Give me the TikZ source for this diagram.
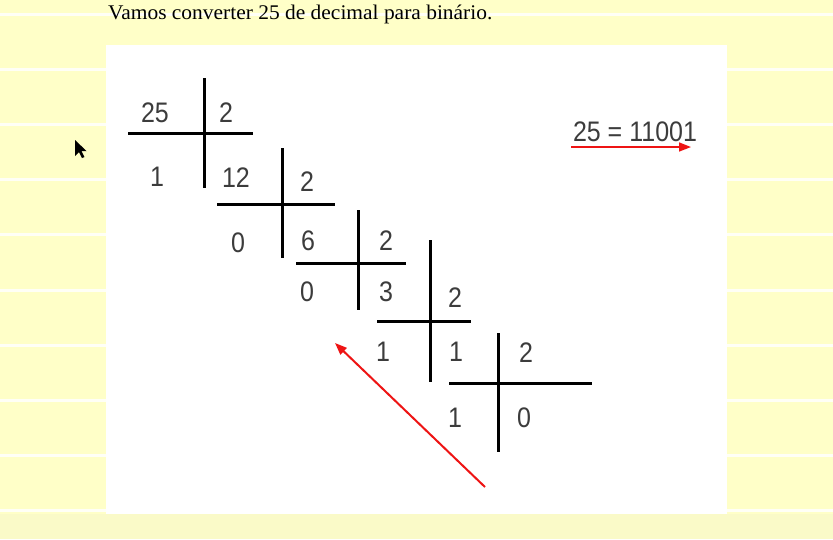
\documentclass[tikz,border=0pt]{standalone}
\usepackage{fontspec}
\setmainfont{Liberation Serif}
\newfontfamily\digfont{Liberation Sans}
\usetikzlibrary{arrows.meta}
\definecolor{bgyel}{RGB}{255,255,200}
\definecolor{bgbot}{RGB}{250,250,200}
\definecolor{digc}{RGB}{60,60,60}
\definecolor{arrred}{RGB}{238,20,20}
\newcommand{\dg}[1]{\scalebox{1}[1.13]{#1}}
\tikzset{
  dig/.style={font=\digfont\fontsize{25}{25}\selectfont, text=digc, inner sep=0pt, anchor=center},
  barline/.style={line width=3pt, black},
  redarrow/.style={line width=2pt, arrred, -{Triangle[length=12pt,width=9pt]}},
  stripe/.style={fill=white, draw=none, opacity=0.85}
}
\begin{document}
\begin{tikzpicture}[x=1pt,y=-1pt]
\useasboundingbox (0,0) rectangle (833,539);
% background
\fill[bgyel] (0,0) rectangle (833,539);
\fill[bgbot] (0,514) rectangle (833,539);
\foreach \k in {0,...,9} {
  \fill[stripe] (0,{12.5+55.2*\k}) rectangle (833,{15.5+55.2*\k});
}
% white panel
\fill[white] (106,45) rectangle (727,514);
% title
\node[anchor=base west, inner sep=0pt] (title) at (108,19)
  {\scalebox{1.1}[1.07]{\fontsize{19.5}{20}\selectfont Vamos converter 25 de decimal para binário.}};
% cursor
\fill[black] (75,140) -- (75,156) -- (79,152) -- (82,158) -- (84.5,157) -- (81.5,151) -- (86.5,151) -- cycle;
% line endpoints
\coordinate (v1a) at (204,78);  \coordinate (v1b) at (204,188);
\coordinate (h1a) at (128,133); \coordinate (h1b) at (253,133);
\coordinate (v2a) at (282,148); \coordinate (v2b) at (282,258);
\coordinate (h2a) at (217,204); \coordinate (h2b) at (335,204);
\coordinate (v3a) at (358,210); \coordinate (v3b) at (358,310);
\coordinate (h3a) at (296,263); \coordinate (h3b) at (406,263);
\coordinate (v4a) at (430,240); \coordinate (v4b) at (430,382);
\coordinate (h4a) at (377,321); \coordinate (h4b) at (471,321);
\coordinate (v5a) at (498,333); \coordinate (v5b) at (498,452);
\coordinate (h5a) at (449,383); \coordinate (h5b) at (592,383);
\foreach \i in {1,...,5} {
  \draw[barline] (v\i a) -- (v\i b);
  \draw[barline] (h\i a) -- (h\i b);
}
% numbers
\node[dig] (n25) at (155,113) {\dg{25}};
\node[dig] (d1) at (226,113) {\dg{2}};
\node[dig] (r1) at (157,177) {\dg{1}};
\node[dig] (q1) at (236,178) {\dg{12}};
\node[dig] (d2) at (307,182) {\dg{2}};
\node[dig] (r2) at (238,243) {\dg{0}};
\node[dig] (q2) at (308,241) {\dg{6}};
\node[dig] (d3) at (386,241) {\dg{2}};
\node[dig] (r3) at (307,292) {\dg{0}};
\node[dig] (q3) at (386,292) {\dg{3}};
\node[dig] (d4) at (455,298) {\dg{2}};
\node[dig] (r4) at (383,352) {\dg{1}};
\node[dig] (q4) at (456,352) {\dg{1}};
\node[dig] (d5) at (526,353) {\dg{2}};
\node[dig] (r5) at (455,418) {\dg{1}};
\node[dig] (q5) at (524,418) {\dg{0}};
% result
\node[dig] (res) at (635,132) {\dg{25 = 11001}};
\coordinate (ula) at (571,147);
\coordinate (ulb) at (691,147);
\draw[redarrow, line width=1.6pt] (ula) -- (ulb);
% reading arrow
\coordinate (rda) at (485,487);
\coordinate (rdb) at (335,343);
\draw[redarrow] (rda) -- (rdb);
\end{tikzpicture}
\end{document}
